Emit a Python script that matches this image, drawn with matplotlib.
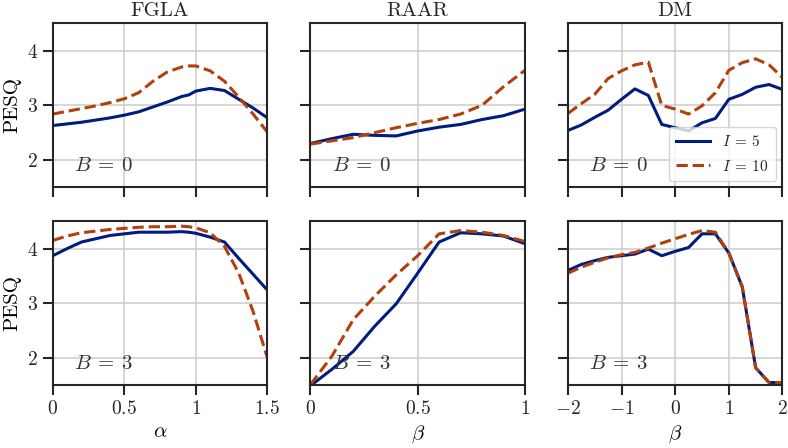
import matplotlib
matplotlib.use("Agg")
import matplotlib.pyplot as plt
from matplotlib.ticker import FuncFormatter

# ---- data ----
alpha_fgla = [0.0, 0.1, 0.2, 0.3, 0.4, 0.5, 0.6, 0.7, 0.8, 0.9, 0.95, 1.0, 1.1, 1.2, 1.3, 1.4, 1.5]
fgla_b0_i5 = [2.63, 2.66, 2.69, 2.73, 2.77, 2.82, 2.88, 2.97, 3.06, 3.16, 3.19, 3.26, 3.31, 3.27, 3.11, 2.95, 2.77]
fgla_b0_i10 = [2.84, 2.89, 2.94, 2.99, 3.05, 3.12, 3.23, 3.44, 3.61, 3.70, 3.72, 3.72, 3.63, 3.44, 3.15, 2.84, 2.51]
fgla_b3_i5 = [3.87, 4.00, 4.12, 4.18, 4.24, 4.27, 4.30, 4.30, 4.30, 4.31, 4.30, 4.28, 4.21, 4.12, 3.82, 3.53, 3.24]
fgla_b3_i10 = [4.15, 4.23, 4.29, 4.32, 4.35, 4.37, 4.39, 4.40, 4.40, 4.41, 4.40, 4.38, 4.29, 4.04, 3.55, 2.85, 2.00]

beta_raar = [0.0, 0.1, 0.2, 0.3, 0.4, 0.5, 0.6, 0.7, 0.8, 0.9, 1.0]
raar_b0_i5 = [2.30, 2.39, 2.47, 2.45, 2.44, 2.53, 2.60, 2.65, 2.74, 2.81, 2.93]
raar_b0_i10 = [2.29, 2.35, 2.41, 2.50, 2.59, 2.67, 2.74, 2.84, 3.00, 3.34, 3.64]
raar_b3_i5 = [1.49, 1.79, 2.12, 2.58, 2.99, 3.55, 4.12, 4.29, 4.27, 4.23, 4.09]
raar_b3_i10 = [1.51, 2.03, 2.70, 3.13, 3.52, 3.87, 4.27, 4.33, 4.30, 4.24, 4.13]

beta_dm = [-2.0, -1.75, -1.5, -1.25, -1.0, -0.75, -0.5, -0.25, 0.0, 0.25, 0.5, 0.75, 1.0, 1.25, 1.5, 1.75, 2.0]
dm_b0_i5 = [2.54, 2.64, 2.78, 2.91, 3.11, 3.30, 3.18, 2.65, 2.59, 2.53, 2.68, 2.76, 3.11, 3.20, 3.33, 3.38, 3.29]
dm_b0_i10 = [2.85, 3.03, 3.20, 3.49, 3.63, 3.74, 3.79, 3.00, 2.93, 2.84, 2.99, 3.23, 3.64, 3.78, 3.85, 3.74, 3.51]
dm_b3_i5 = [3.60, 3.71, 3.78, 3.84, 3.87, 3.90, 3.99, 3.87, 3.95, 4.02, 4.27, 4.27, 3.92, 3.30, 1.82, 1.55, 1.55]
dm_b3_i10 = [3.55, 3.66, 3.75, 3.83, 3.89, 3.93, 4.01, 4.10, 4.18, 4.26, 4.33, 4.30, 3.92, 3.30, 1.82, 1.55, 1.55]

methods = ["FGLA", "RAAR", "DM"]
xlabels = [r"$\alpha$", r"$\beta$", r"$\beta$"]
xvals = [alpha_fgla, beta_raar, beta_dm]
xlims = [(0, 1.5), (0, 1), (-2, 2)]
xticks = [[0, 0.5, 1, 1.5], [0, 0.5, 1], [-2, -1, 0, 1, 2]]
series = {
    (0, 0): (fgla_b0_i5, fgla_b0_i10),
    (0, 1): (raar_b0_i5, raar_b0_i10),
    (0, 2): (dm_b0_i5, dm_b0_i10),
    (1, 0): (fgla_b3_i5, fgla_b3_i10),
    (1, 1): (raar_b3_i5, raar_b3_i10),
    (1, 2): (dm_b3_i5, dm_b3_i10),
}
b_values = [0, 3]
i_values = [5, 10]

BLUE = "#001c7f"
ORANGE = "#b1400d"
DARK = "#262626"

plt.rcParams.update({
    "font.family": ["cmr10", "DejaVu Serif"],
    "mathtext.fontset": "cm",
    "axes.unicode_minus": False,
    "axes.edgecolor": DARK,
    "axes.linewidth": 1.5,
    "xtick.color": DARK,
    "ytick.color": DARK,
    "xtick.major.size": 7,
    "ytick.major.size": 7,
    "xtick.major.width": 1.5,
    "ytick.major.width": 1.5,
    "text.color": DARK,
})

fig, axes = plt.subplots(2, 3, figsize=(7.88, 4.48), dpi=100, sharey=True)
fig.subplots_adjust(left=0.067, right=0.993, top=0.948, bottom=0.140, wspace=0.2, hspace=0.207)

fmt = FuncFormatter(lambda v, _: f"${v:g}$")

for r in range(2):
    for c in range(3):
        ax = axes[r, c]
        y5, y10 = series[(r, c)]
        ax.plot(xvals[c], y5, color=BLUE, lw=2.2, label=rf"$I\:=\:{i_values[0]}$")
        ax.plot(xvals[c], y10, color=ORANGE, lw=2.2, ls="--", label=rf"$I\:=\:{i_values[1]}$")
        ax.set_xlim(*xlims[c])
        ax.set_ylim(1.5, 4.5)
        ax.set_xticks(xticks[c])
        ax.set_yticks([2, 3, 4])
        ax.xaxis.set_major_formatter(fmt)
        ax.yaxis.set_major_formatter(fmt)
        ax.grid(True, color="#cccccc", lw=1.1)
        ax.set_axisbelow(True)
        ax.tick_params(labelsize=14)
        ax.text(0.1, 0.13, rf"$B\:=\:{b_values[r]}$", transform=ax.transAxes,
                fontsize=15, ha="left", va="center", color="#333333")
        if r == 0:
            ax.set_title(methods[c], fontsize=15, pad=5)
            ax.tick_params(labelbottom=False)
        else:
            ax.set_xlabel(xlabels[c], fontsize=15)
        if c == 0:
            ax.set_ylabel("PESQ", fontsize=15)

leg = axes[0, 2].legend(loc="lower right", fontsize=11, frameon=True, fancybox=True,
                        handlelength=2.2, borderpad=0.5, labelspacing=0.6,
                        borderaxespad=0.4)
leg.get_frame().set_edgecolor("#cccccc")

fig.savefig("out.png", dpi=100)
